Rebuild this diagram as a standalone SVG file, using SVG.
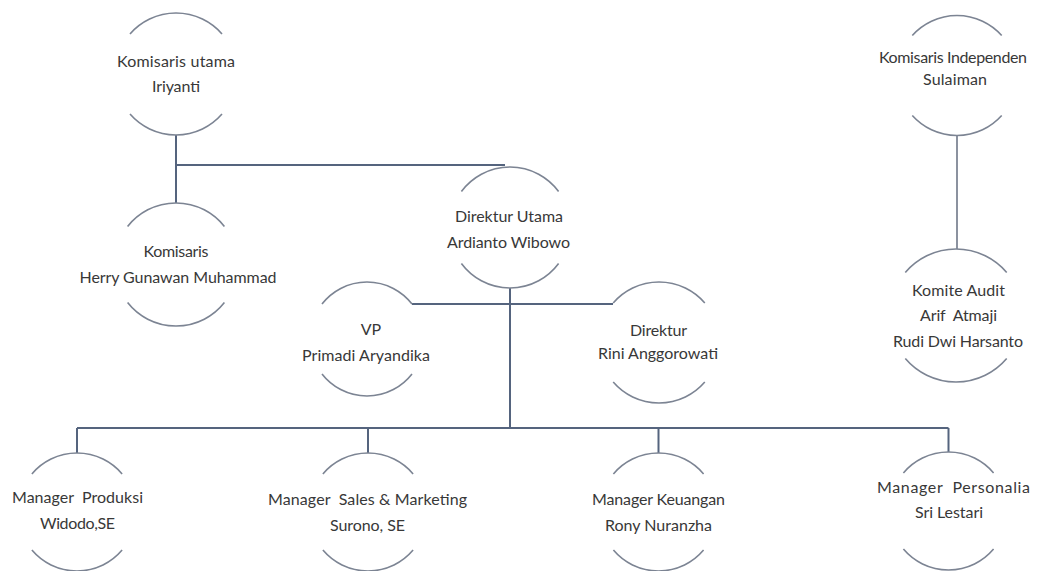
<svg xmlns="http://www.w3.org/2000/svg" width="1038" height="571" viewBox="0 0 1038 571">
  <style>
    .arc { fill: none; stroke: #7c8493; stroke-width: 1.6; }
    .link { fill: none; stroke: #55647e; stroke-width: 2; }
    .link.thin { stroke: #6f7788; stroke-width: 1.6; }
    text { font-family: Lato, "Liberation Sans", sans-serif; font-size: 16px; fill: #383838; text-anchor: middle; white-space: pre; }
  </style>
  <rect width="1038" height="571" fill="#ffffff"/>

  <!-- reporting lines -->
  <g id="connectors">
    <line class="link" x1="176" y1="135" x2="176" y2="203"/>
    <line class="link" x1="176" y1="165" x2="505" y2="165"/>
    <line class="link thin" x1="957" y1="135" x2="957" y2="249"/>
    <line class="link" x1="510" y1="288" x2="510" y2="428"/>
    <line class="link" x1="412" y1="304" x2="613" y2="304"/>
    <line class="link" x1="77" y1="428" x2="948.5" y2="428"/>
    <line class="link" x1="77" y1="428" x2="77" y2="453"/>
    <line class="link" x1="368" y1="428" x2="368" y2="453"/>
    <line class="link" x1="658.5" y1="428" x2="658.5" y2="453"/>
    <line class="link" x1="948.5" y1="428" x2="948.5" y2="452"/>
  </g>

  <g id="komisaris-utama">
    <path class="arc" d="M130,34 A61,61 0 0 1 222,34"/>
    <path class="arc" d="M130,114 A61,61 0 0 0 222,114"/>
    <text x="176" y="67" textLength="118">Komisaris utama</text>
    <text x="176" y="92" textLength="48">Iriyanti</text>
  </g>

  <g id="komisaris">
    <path class="arc" d="M127.6,226.5 A61.5,61.5 0 0 1 224.4,226.5"/>
    <path class="arc" d="M127.6,302.5 A61.5,61.5 0 0 0 224.4,302.5"/>
    <text x="176" y="257" textLength="65">Komisaris</text>
    <text x="178" y="283" textLength="197">Herry Gunawan Muhammad</text>
  </g>

  <g id="direktur-utama">
    <path class="arc" d="M461.4,191.5 A60.5,60.5 0 0 1 558.6,191.5"/>
    <path class="arc" d="M461.4,263.5 A60.5,60.5 0 0 0 558.6,263.5"/>
    <text x="509" y="222" textLength="108">Direktur Utama</text>
    <text x="508.5" y="248" textLength="123">Ardianto Wibowo</text>
  </g>

  <g id="vp">
    <path class="arc" d="M322,304 A57,57 0 0 1 412,304"/>
    <path class="arc" d="M322,374 A57,57 0 0 0 412,374"/>
    <text x="371" y="335">VP</text>
    <text x="366" y="361" textLength="128">Primadi Aryandika</text>
  </g>

  <g id="direktur">
    <path class="arc" d="M613.2,303 A60.5,60.5 0 0 1 704.8,303"/>
    <path class="arc" d="M613.2,382 A60.5,60.5 0 0 0 704.8,382"/>
    <text x="658.5" y="336" textLength="57">Direktur</text>
    <text x="658" y="359" textLength="120">Rini Anggorowati</text>
  </g>

  <g id="komisaris-independen">
    <path class="arc" d="M912.3,35.5 A60,60 0 0 1 1001.7,35.5"/>
    <path class="arc" d="M912.3,115.5 A60,60 0 0 0 1001.7,115.5"/>
    <text x="953" y="63" textLength="148">Komisaris Independen</text>
    <text x="955" y="85" textLength="64">Sulaiman</text>
  </g>

  <g id="komite-audit">
    <path class="arc" d="M905.3,272.5 A66.5,66.5 0 0 1 1006.7,272.5"/>
    <path class="arc" d="M905.3,358.5 A66.5,66.5 0 0 0 1006.7,358.5"/>
    <text x="958.5" y="296" textLength="93">Komite Audit</text>
    <text x="958.5" y="321" textLength="77">Arif  Atmaji</text>
    <text x="958" y="347" textLength="130">Rudi Dwi Harsanto</text>
  </g>

  <g id="manager-produksi">
    <path class="arc" d="M31.9,474 A59,59 0 0 1 122.1,474"/>
    <path class="arc" d="M31.9,550 A59,59 0 0 0 122.1,550"/>
    <text x="77.5" y="503" textLength="131">Manager  Produksi</text>
    <text x="77.5" y="529" textLength="75">Widodo,SE</text>
  </g>

  <g id="manager-sales-marketing">
    <path class="arc" d="M322.9,474 A59,59 0 0 1 413.1,474"/>
    <path class="arc" d="M322.9,550 A59,59 0 0 0 413.1,550"/>
    <text x="367.5" y="505" textLength="199">Manager  Sales &amp; Marketing</text>
    <text x="367.5" y="531" textLength="75">Surono, SE</text>
  </g>

  <g id="manager-keuangan">
    <path class="arc" d="M613.4,474 A59,59 0 0 1 703.6,474"/>
    <path class="arc" d="M613.4,550 A59,59 0 0 0 703.6,550"/>
    <text x="658.5" y="505" textLength="133">Manager Keuangan</text>
    <text x="658.5" y="531" textLength="107">Rony Nuranzha</text>
  </g>

  <g id="manager-personalia">
    <path class="arc" d="M903.4,473 A59,59 0 0 1 993.6,473"/>
    <path class="arc" d="M903.4,549 A59,59 0 0 0 993.6,549"/>
    <text x="953.5" y="493" textLength="153">Manager  Personalia</text>
    <text x="949" y="518" textLength="68">Sri Lestari</text>
  </g>
</svg>
